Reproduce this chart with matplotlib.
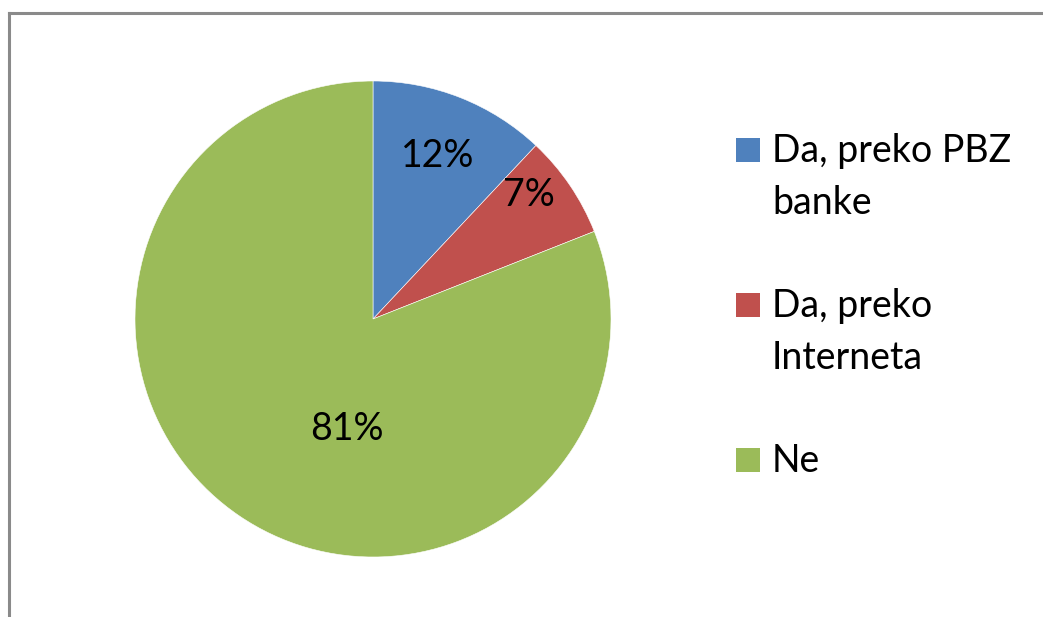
import matplotlib
matplotlib.use("Agg")
import matplotlib.pyplot as plt
from matplotlib.lines import Line2D
from matplotlib.patches import Rectangle

categories = ["Da, preko PBZ\nbanke", "Da, preko\nInterneta", "Ne"]
shares = [12, 7, 81]
colors = ["#4F81BD", "#C0504D", "#9BBB59"]

plt.rcParams["font.family"] = ["Lato", "DejaVu Sans"]
FS = 27

W, H = 1043, 617
fig = plt.figure(figsize=(W / 100, H / 100), dpi=100)

# chart frame (gray border, open at right/bottom edges)
frame = "#8a8a8a"
fig.add_artist(Line2D([9 / W, 1.0], [1 - 13 / H, 1 - 13 / H], color=frame, lw=2.2, transform=fig.transFigure))
fig.add_artist(Line2D([9 / W, 9 / W], [0.0, 1 - 13 / H], color=frame, lw=2.2, transform=fig.transFigure))

ax = fig.add_axes([135 / W, 60 / H, 476 / W, 476 / H])
wedges, texts, autotexts = ax.pie(
    shares,
    colors=colors,
    startangle=90,
    counterclock=False,
    radius=1.0,
    autopct="%d%%",
    textprops={"fontsize": FS, "color": "black"},
    wedgeprops={"edgecolor": "white", "linewidth": 0.4},
)
# label placement as in the original chart (baseline positions)
label_pos = [(0.273, 0.639), (0.655, 0.475), (-0.109, -0.508)]
for t, (x, y) in zip(autotexts, label_pos):
    t.set_position((x, y))
    t.set_ha("center")
    t.set_va("baseline")
ax.set_xlim(-1, 1)
ax.set_ylim(-1, 1)
ax.set_aspect("equal")
ax.axis("off")

# legend drawn by hand so the marker sits on the first line
baselines = [162, 317, 472]
line_gap = 52
for lab, col, yb in zip(categories, colors, baselines):
    fig.add_artist(Rectangle((736 / W, 1 - yb / H), 24 / W, 24 / H,
                             facecolor=col, edgecolor="none", transform=fig.transFigure))
    for i, line in enumerate(lab.split("\n")):
        fig.text(772 / W, 1 - (yb + i * line_gap) / H, line, fontsize=FS,
                 ha="left", va="baseline")

fig.savefig("out.png", dpi=100)
